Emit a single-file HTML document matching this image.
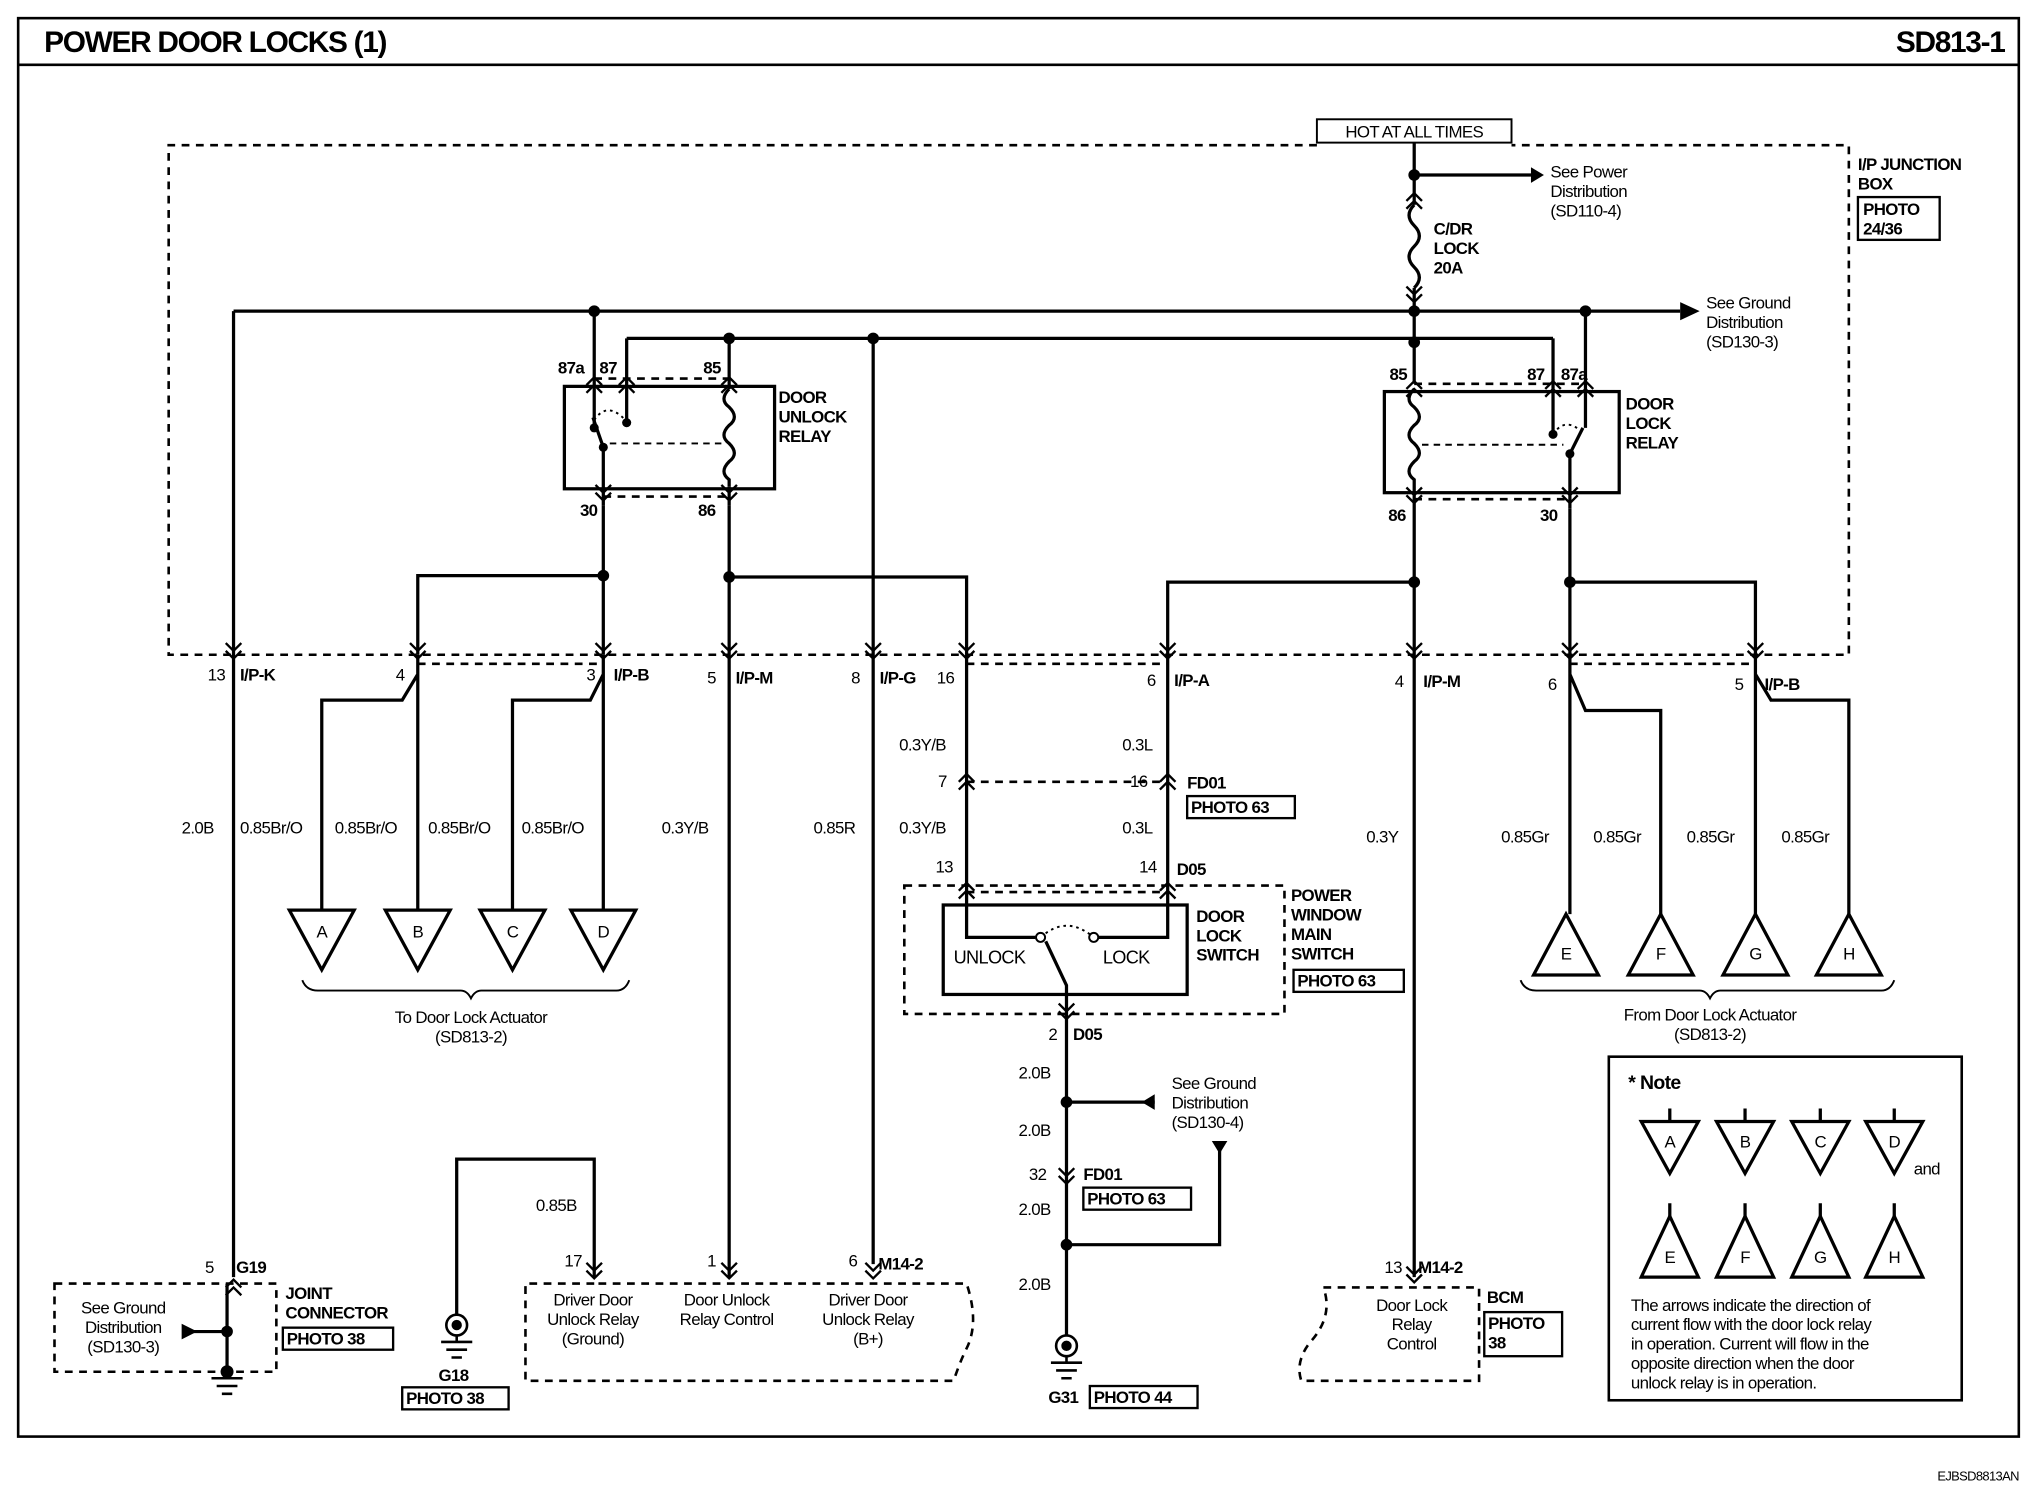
<!DOCTYPE html>
<html><head><meta charset="utf-8"><style>
html,body{margin:0;padding:0;background:#fff}
svg{display:block}
text{font-family:"Liberation Sans Narrow","Liberation Sans",sans-serif;font-size:13px;fill:#000;letter-spacing:-0.5px}
.b{font-weight:bold}
</style></head><body>
<svg width="2024" height="1504" viewBox="0 0 1560 1160" preserveAspectRatio="none" xmlns="http://www.w3.org/2000/svg">
<defs>
<g id="cd" fill="none" stroke="#000" stroke-width="1.8"><path d="M-6,-11 L0,-5 L6,-11 M-6,-5 L0,1 L6,-5"/></g>
<g id="cu" fill="none" stroke="#000" stroke-width="1.8"><path d="M-6,11 L0,5 L6,11 M-6,5 L0,-1 L6,5"/></g>
</defs>
<rect width="1560" height="1160" fill="#fff"/>
<rect x="14" y="14" width="1542" height="1094" fill="none" stroke="#000" stroke-width="2"/>
<line x1="14" y1="50" x2="1556" y2="50" stroke="#000" stroke-width="2"/>
<text x="34" y="40" class="b" style="font-size:23px;letter-spacing:-1px">POWER DOOR LOCKS (1)</text>
<text x="1545" y="40" class="b" text-anchor="end" style="font-size:23px;letter-spacing:-1px">SD813-1</text>
<text x="1556" y="1142" text-anchor="end" style="font-size:10px">EJBSD8813AN</text>

<g fill="none" stroke="#000" stroke-width="2" stroke-dasharray="6,5">
<path d="M1015,112 H130 V505 H1425 V112 H1165"/>
<path d="M322,512 H465 M745,512 H900 M1210,512 H1353"/>
<path d="M458,292 H562 M465,383 H562 M1090,296 H1222 M1090,385 H1210"/>
<path d="M745,603 H900 M745,688 H900"/>
<rect x="697" y="683" width="293" height="99"/>
<rect x="42" y="990" width="171" height="68"/>
<path d="M458,990 H405 V1065 H735 Q740,1050 745,1040 Q755,1020 745,990 H458"/>
<path d="M1020,993 H1140 V1065 H1003 Q998,1050 1010,1035 Q1028,1015 1020,993"/>
</g>
<rect x="1015" y="92" width="150" height="18" fill="#fff" stroke="#000" stroke-width="1.5"/>
<text x="1090" y="106" text-anchor="middle">HOT AT ALL TIMES</text>

<g fill="none" stroke="#000" stroke-width="2.5">
<path d="M1090,110 V158 M1090,222 V296"/>
<path d="M1090,158 q-8,8 0,16 q8,8 0,16 q-8,8 0,16 q8,8 0,16"/>
<path d="M1090,135 H1180"/>
<path d="M180,240 H1295"/>
<path d="M483,261 H1197"/>
<rect x="435" y="298" width="162" height="79"/>
<path d="M458,240 V330 M483,261 V325 M562,261 V300 M562,375 V390"/>
<path d="M465,345 V390 M465,345 L457,322"/>
<path d="M562,300 q-8,8 0,14 q8,8 0,14 q-8,8 0,14 q8,8 0,14 q-8,8 0,14 V375"/>
<path d="M465,390 V505 M465,444 H322 V505 M562,390 V985 M562,445 H745 V505 M673,261 V975 M180,240 V985"/>
<rect x="1067" y="302" width="181" height="78"/>
<path d="M1090,300 q-8,8 0,14 q8,8 0,14 q-8,8 0,14 q8,8 0,14 q-8,8 0,14 V380"/>
<path d="M1197,261 V335 M1222,240 V330 M1210,350 V392 M1210,350 L1220,330"/>
<path d="M1090,380 V985 M1090,449 H900 V505 M1210,392 V505 M1210,449 H1353 V505"/>
<path d="M322,505 V520 L310,540 H248 V702 M322,520 V702 M465,505 V520 L455,540 H395 V702 M465,520 V702"/>
<path d="M1210,505 V520 L1222,548 H1280 V705 M1210,520 V705 M1353,505 V520 L1365,540 H1425 V705 M1353,520 V705"/>
<path d="M745,505 V683 M900,505 V683"/>
<rect x="727" y="698" width="188" height="69"/>
<path d="M745,683 V723 H798 M900,683 V723 H847 M822,767 V760 L806,726"/>
<path d="M822,767 V1030 M822,850 H890 M822,960 H940 V885"/>
<path d="M352,1015 V894 H458 V985"/>
<path d="M175,990 V1055 M148,1027 H175"/>
</g>
<path d="M802,723 q20,-18 41,0" fill="none" stroke="#000" stroke-width="1.5" stroke-dasharray="2,3"/>
<path d="M458,324 q10,-15 24,0" fill="none" stroke="#000" stroke-width="1.5" stroke-dasharray="2,3"/>
<path d="M1197,335 q10,-15 24,0" fill="none" stroke="#000" stroke-width="1.5" stroke-dasharray="2,3"/>
<path d="M470,342 H556 M1096,343 H1205" fill="none" stroke="#000" stroke-width="1.5" stroke-dasharray="5,4"/>
<g fill="#fff" stroke="#000" stroke-width="1.5"><circle cx="802" cy="723" r="3.5"/><circle cx="843" cy="723" r="3.5"/></g>
<g fill="#000">
<circle cx="458" cy="330" r="3.5"/><circle cx="483" cy="326" r="3.5"/><circle cx="465" cy="345" r="3.5"/>
<circle cx="1197" cy="335" r="3.5"/><circle cx="1210" cy="350" r="3.5"/>
<circle cx="1090" cy="135" r="4.5"/><circle cx="458" cy="240" r="4.5"/><circle cx="1090" cy="240" r="4.5"/><circle cx="1222" cy="240" r="4.5"/>
<circle cx="562" cy="261" r="4.5"/><circle cx="673" cy="261" r="4.5"/><circle cx="1090" cy="264" r="4.5"/>
<circle cx="465" cy="444" r="4.5"/><circle cx="562" cy="445" r="4.5"/><circle cx="1090" cy="449" r="4.5"/><circle cx="1210" cy="449" r="4.5"/>
<circle cx="822" cy="850" r="4.5"/><circle cx="822" cy="960" r="4.5"/><circle cx="175" cy="1027" r="4.5"/>
<path d="M1180,129 L1190,135 L1180,141Z M1295,233 L1310,240 L1295,247Z M890,844 L880,850 L890,856Z M934,880 L946,880 L940,890Z M140,1021 L152,1027 L140,1033Z"/>
</g>
<g>
<use href="#cu" x="1090" y="150"/><use href="#cd" x="1090" y="232"/>
<use href="#cu" x="458" y="292"/><use href="#cu" x="483" y="292"/><use href="#cu" x="562" y="292"/>
<use href="#cd" x="465" y="385"/><use href="#cd" x="562" y="385"/>
<use href="#cu" x="1090" y="295"/><use href="#cu" x="1197" y="295"/><use href="#cu" x="1222" y="295"/>
<use href="#cd" x="1090" y="387"/><use href="#cd" x="1210" y="387"/>
<use href="#cd" x="180" y="507"/><use href="#cd" x="322" y="507"/><use href="#cd" x="465" y="507"/><use href="#cd" x="562" y="507"/><use href="#cd" x="673" y="507"/><use href="#cd" x="745" y="507"/><use href="#cd" x="900" y="507"/><use href="#cd" x="1090" y="507"/><use href="#cd" x="1210" y="507"/><use href="#cd" x="1353" y="507"/>
<use href="#cu" x="745" y="598"/><use href="#cu" x="900" y="598"/>
<use href="#cu" x="745" y="682"/><use href="#cu" x="900" y="682"/>
<use href="#cd" x="822" y="785"/><use href="#cd" x="822" y="912"/>
<use href="#cu" x="180" y="988"/><use href="#cd" x="458" y="985"/><use href="#cd" x="562" y="985"/><use href="#cd" x="673" y="985"/><use href="#cd" x="1090" y="988"/>
</g>
<g fill="#fff" stroke="#000" stroke-width="2.5">
<path d="M223,702 H273 L248,748Z M297,702 H347 L322,748Z M370,702 H420 L395,748Z M440,702 H490 L465,748Z"/>
<path d="M1182,752 H1232 L1207,705Z M1255,752 H1305 L1280,705Z M1328,752 H1378 L1353,705Z M1400,752 H1450 L1425,705Z"/>
</g>
<g fill="none" stroke="#000" stroke-width="1.5">
<path d="M233,756 Q236,764 245,764 H355 Q360,764 363,770 Q366,764 371,764 H475 Q482,764 485,756"/>
<path d="M1172,756 Q1175,764 1184,764 H1310 Q1315,764 1318,770 Q1321,764 1326,764 H1450 Q1457,764 1460,756"/>
</g>
<g fill="none" stroke="#000" stroke-width="2">
<circle cx="352" cy="1022" r="8"/><circle cx="352" cy="1022" r="3" fill="#000"/><path d="M340,1035 H364 M344,1041 H360 M348,1047 H356 M352,1030 V1035"/>
<circle cx="822" cy="1038" r="8"/><circle cx="822" cy="1038" r="3" fill="#000"/><path d="M810,1051 H834 M814,1057 H830 M818,1063 H826 M822,1046 V1051"/>
<path d="M163,1063 H187 M167,1069 H183 M171,1075 H179"/>
</g>
<circle cx="175" cy="1058" r="5" fill="#000"/>
<g fill="none" stroke="#000" stroke-width="1.8">
<rect x="1432" y="152" width="63" height="33"/><rect x="915" y="614" width="83" height="17"/><rect x="997" y="748" width="85" height="17"/>
<rect x="835" y="916" width="83" height="17"/><rect x="840" y="1069" width="83" height="17"/><rect x="218" y="1024" width="85" height="17"/>
<rect x="310" y="1070" width="82" height="17"/><rect x="1144" y="1012" width="60" height="34"/>
<rect x="1240" y="815" width="272" height="265" stroke-width="2"/>
</g>
<g class="b">
<text x="1432" y="131" class="b">I/P JUNCTION</text><text x="1432" y="146" class="b">BOX</text>
<text x="1436" y="166" class="b">PHOTO</text><text x="1436" y="181" class="b">24/36</text>
<text x="1105" y="181" class="b">C/DR</text><text x="1105" y="196" class="b">LOCK</text><text x="1105" y="211" class="b">20A</text>
<text x="600" y="311" class="b">DOOR</text><text x="600" y="326" class="b">UNLOCK</text><text x="600" y="341" class="b">RELAY</text>
<text x="1253" y="316" class="b">DOOR</text><text x="1253" y="331" class="b">LOCK</text><text x="1253" y="346" class="b">RELAY</text>
<text x="430" y="288" class="b">87a</text><text x="462" y="288" class="b">87</text><text x="542" y="288" class="b">85</text>
<text x="447" y="398" class="b">30</text><text x="538" y="398" class="b">86</text>
<text x="1071" y="293" class="b">85</text><text x="1177" y="293" class="b">87</text><text x="1203" y="293" class="b">87a</text>
<text x="1070" y="402" class="b">86</text><text x="1187" y="402" class="b">30</text>
<text x="185" y="525" class="b">I/P-K</text><text x="473" y="525" class="b">I/P-B</text><text x="567" y="527" class="b">I/P-M</text><text x="678" y="527" class="b">I/P-G</text>
<text x="905" y="529" class="b">I/P-A</text><text x="1097" y="530" class="b">I/P-M</text><text x="1360" y="532" class="b">I/P-B</text>
<text x="915" y="608" class="b">FD01</text><text x="918" y="627" class="b">PHOTO 63</text>
<text x="907" y="675" class="b">D05</text>
<text x="922" y="711" class="b">DOOR</text><text x="922" y="726" class="b">LOCK</text><text x="922" y="741" class="b">SWITCH</text>
<text x="995" y="695" class="b">POWER</text><text x="995" y="710" class="b">WINDOW</text><text x="995" y="725" class="b">MAIN</text><text x="995" y="740" class="b">SWITCH</text>
<text x="1000" y="761" class="b">PHOTO 63</text>
<text x="827" y="802" class="b">D05</text><text x="835" y="910" class="b">FD01</text><text x="838" y="929" class="b">PHOTO 63</text>
<text x="843" y="1082" class="b">PHOTO 44</text><text x="808" y="1082" class="b">G31</text>
<text x="182" y="982" class="b">G19</text><text x="220" y="1002" class="b">JOINT</text><text x="220" y="1017" class="b">CONNECTOR</text><text x="221" y="1037" class="b">PHOTO 38</text>
<text x="338" y="1065" class="b">G18</text><text x="313" y="1083" class="b">PHOTO 38</text>
<text x="677" y="979" class="b">M14-2</text><text x="1093" y="982" class="b">M14-2</text>
<text x="1146" y="1005" class="b">BCM</text><text x="1147" y="1025" class="b">PHOTO</text><text x="1147" y="1040" class="b">38</text>
<text x="1255" y="840" class="b" style="font-size:15px">* Note</text>
</g>
<text x="1195" y="137">See Power</text><text x="1195" y="152">Distribution</text><text x="1195" y="167">(SD110-4)</text>
<text x="1315" y="238">See Ground</text><text x="1315" y="253">Distribution</text><text x="1315" y="268">(SD130-3)</text>
<text x="160" y="525">13</text><text x="305" y="525">4</text><text x="452" y="525">3</text><text x="545" y="527">5</text><text x="656" y="527">8</text><text x="722" y="527">16</text>
<text x="884" y="529">6</text><text x="1075" y="530">4</text><text x="1193" y="532">6</text><text x="1337" y="532">5</text>
<g>
<text x="140" y="643">2.0B</text><text x="185" y="643">0.85Br/O</text><text x="258" y="643">0.85Br/O</text><text x="330" y="643">0.85Br/O</text><text x="402" y="643">0.85Br/O</text>
<text x="510" y="643">0.3Y/B</text><text x="627" y="643">0.85R</text><text x="693" y="643">0.3Y/B</text><text x="865" y="643">0.3L</text>
<text x="1053" y="650">0.3Y</text><text x="1157" y="650">0.85Gr</text><text x="1228" y="650">0.85Gr</text><text x="1300" y="650">0.85Gr</text><text x="1373" y="650">0.85Gr</text>
<text x="693" y="579">0.3Y/B</text><text x="865" y="579">0.3L</text><text x="723" y="607">7</text><text x="871" y="607">16</text>
<text x="721" y="673">13</text><text x="878" y="673">14</text>
</g>
<text x="735" y="743" style="font-size:14px">UNLOCK</text><text x="850" y="743" style="font-size:14px">LOCK</text>
<text x="363" y="789" text-anchor="middle">To Door Lock Actuator</text><text x="363" y="804" text-anchor="middle">(SD813-2)</text>
<text x="1318" y="787" text-anchor="middle">From Door Lock Actuator</text><text x="1318" y="802" text-anchor="middle">(SD813-2)</text>
<text x="808" y="802">2</text><text x="785" y="832">2.0B</text><text x="785" y="876">2.0B</text><text x="793" y="910">32</text><text x="785" y="937">2.0B</text><text x="785" y="995">2.0B</text>
<text x="903" y="840">See Ground</text><text x="903" y="855">Distribution</text><text x="903" y="870">(SD130-4)</text>
<text x="158" y="982">5</text>
<text x="95" y="1013" text-anchor="middle">See Ground</text><text x="95" y="1028" text-anchor="middle">Distribution</text><text x="95" y="1043" text-anchor="middle">(SD130-3)</text>
<text x="413" y="934">0.85B</text><text x="435" y="977">17</text><text x="545" y="977">1</text><text x="654" y="977">6</text><text x="1067" y="982">13</text>
<text x="457" y="1007" text-anchor="middle">Driver Door</text><text x="457" y="1022" text-anchor="middle">Unlock Relay</text><text x="457" y="1037" text-anchor="middle">(Ground)</text>
<text x="560" y="1007" text-anchor="middle">Door Unlock</text><text x="560" y="1022" text-anchor="middle">Relay Control</text>
<text x="669" y="1007" text-anchor="middle">Driver Door</text><text x="669" y="1022" text-anchor="middle">Unlock Relay</text><text x="669" y="1037" text-anchor="middle">(B+)</text>
<text x="1088" y="1011" text-anchor="middle">Door Lock</text><text x="1088" y="1026" text-anchor="middle">Relay</text><text x="1088" y="1041" text-anchor="middle">Control</text>
<g fill="#fff" stroke="#000" stroke-width="2.5">
<path d="M1265,865 H1309 L1287,905Z M1323,865 H1367 L1345,905Z M1381,865 H1425 L1403,905Z M1438,865 H1482 L1460,905Z"/>
<path d="M1265,985 H1309 L1287,938Z M1323,985 H1367 L1345,938Z M1381,985 H1425 L1403,938Z M1438,985 H1482 L1460,938Z"/>
<path d="M1287,855 V865 M1345,855 V865 M1403,855 V865 M1460,855 V865 M1287,928 V938 M1345,928 V938 M1403,928 V938 M1460,928 V938"/>
</g>
<g>
<text x="248" y="723" text-anchor="middle">A</text><text x="322" y="723" text-anchor="middle">B</text><text x="395" y="723" text-anchor="middle">C</text><text x="465" y="723" text-anchor="middle">D</text>
<text x="1207" y="740" text-anchor="middle">E</text><text x="1280" y="740" text-anchor="middle">F</text><text x="1353" y="740" text-anchor="middle">G</text><text x="1425" y="740" text-anchor="middle">H</text>
<text x="1287" y="885" text-anchor="middle">A</text><text x="1345" y="885" text-anchor="middle">B</text><text x="1403" y="885" text-anchor="middle">C</text><text x="1460" y="885" text-anchor="middle">D</text>
<text x="1475" y="906">and</text>
<text x="1287" y="974" text-anchor="middle">E</text><text x="1345" y="974" text-anchor="middle">F</text><text x="1403" y="974" text-anchor="middle">G</text><text x="1460" y="974" text-anchor="middle">H</text>
<text x="1257" y="1011">The arrows indicate the direction of</text>
<text x="1257" y="1026">current flow with the door lock relay</text>
<text x="1257" y="1041">in operation. Current will flow in the</text>
<text x="1257" y="1056">opposite direction when the door</text>
<text x="1257" y="1071">unlock relay is in operation.</text>
</g>
</svg>
</body></html>
